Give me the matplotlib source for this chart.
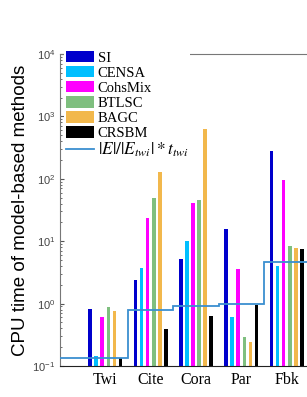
import numpy as np
import matplotlib
matplotlib.use("Agg")
import matplotlib.pyplot as plt

plt.rcParams['mathtext.fontset'] = 'stix'

datasets = ['Twi', 'Cite', 'Cora', 'Par', 'Fbk']
methods = ['SI', 'CENSA', 'CohsMix', 'BTLSC', 'BAGC', 'CRSBM']
colors = ['#0000cc', '#00bfff', '#ff00ff', '#7fbf7f', '#f2b84c', '#000000']

# CPU time (s), one list per method, in dataset order
si = [0.81, 2.35, 5.2, 15.4, 279]
censa = [0.147, 3.7, 10.1, 0.60, 4.05]
cohsmix = [0.61, 23.7, 41, 3.6, 95]
btlsc = [0.89, 50, 45, 0.29, 8.3]
bagc = [0.75, 130, 620, 0.243, 7.9]
crsbm = [0.133, 0.39, 0.64, 0.96, 7.5]
times = [si, censa, cohsmix, btlsc, bagc, crsbm]

# |E|/|E_twi| * t_twi
edge_ratio = [0.136, 0.79, 0.92, 1.0, 4.65]

W, H = 307, 397
fig = plt.figure(figsize=(W / 100, H / 100), dpi=100)
ax = fig.add_axes([60 / W, 1 - 366 / H, 272 / W, 312 / H])

x = np.arange(1, len(datasets) + 1)
n = len(methods)
step = 0.8 / n
handles = []
for k in range(n):
    b = ax.bar(x + (k - (n - 1) / 2) * step, times[k], width=0.08,
               color=colors[k], label=methods[k], zorder=2)
    handles.append(b)

xs = np.concatenate([[0], x + 0.5])
xs[-1] = 6
st = ax.stairs(edge_ratio, xs, color='#3a8fd0', lw=1.3, baseline=None,
               label=r'$|E|/|E_{twi}|*t_{twi}$', zorder=3)
handles.append(st)

ax.set_yscale('log')
ax.set_ylim(0.1, 1e4)
ax.set_xlim(0, 6)
ax.set_xticks(x)
ax.set_xticklabels(datasets, family='Liberation Serif', fontsize=11.5)
ax.tick_params(axis='x', length=0, pad=4)
ax.tick_params(axis='y', which='both', direction='in', labelsize=8,
               labelcolor='#444444', color='#555555')
ax.tick_params(axis='y', which='major', length=3)
ax.tick_params(axis='y', which='minor', length=1.5)
for t in ax.get_yticklabels():
    t.set_family('Liberation Sans')
ax.set_ylabel('CPU time of model-based methods', family='Liberation Sans',
              fontsize=13.5, labelpad=2)

for s in ['left', 'top', 'right']:
    ax.spines[s].set_color('#777777')
ax.spines['bottom'].set_color('#222222')

leg = ax.legend(handles=handles, loc='upper left', bbox_to_anchor=(0.015, 1.015),
                frameon=True, prop={'family': 'Liberation Serif', 'size': 10.5},
                handlelength=1.95, handleheight=0.85, handletextpad=0.25,
                labelspacing=0.08, borderpad=0.1, borderaxespad=0)
leg.get_texts()[-1].set_fontsize(12.5)
leg.get_frame().set_edgecolor('none')
leg.get_frame().set_facecolor('white')
leg.get_frame().set_alpha(1)
leg.set_zorder(5)

fig.savefig('out.png', dpi=100)
